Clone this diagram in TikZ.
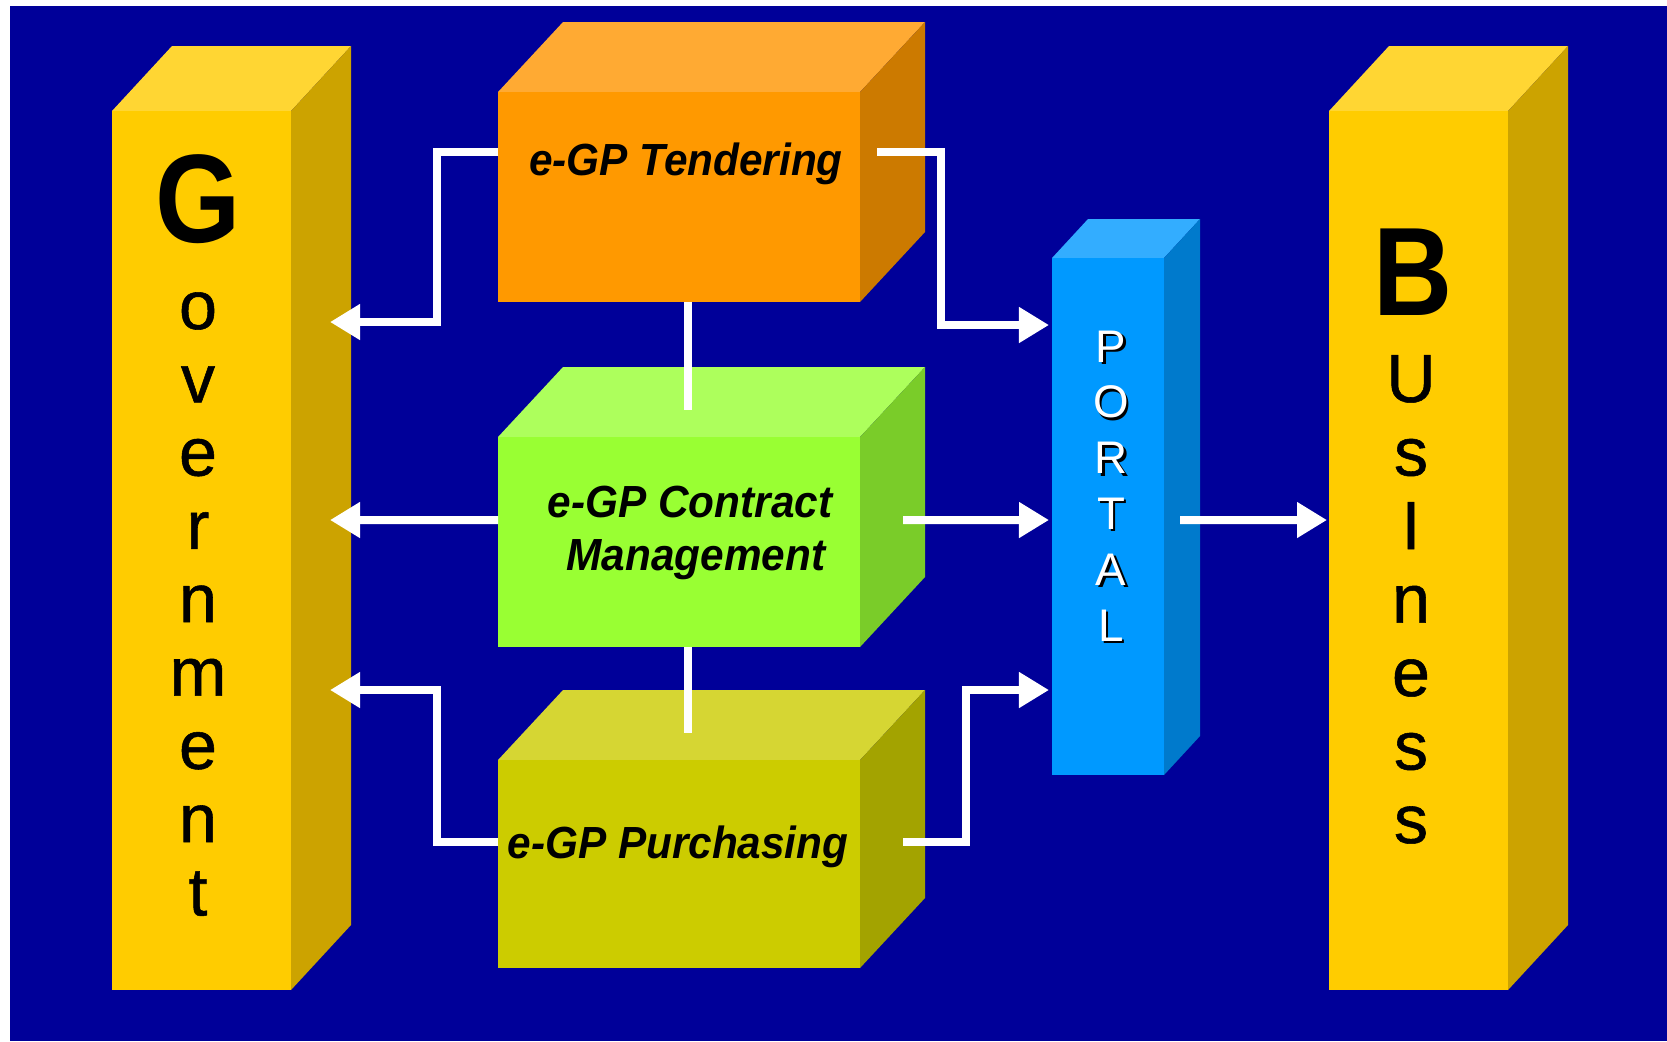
\documentclass[tikz,border=0pt]{standalone}
\usepackage{fontspec}
\setmainfont{Liberation Sans}
\newfontfamily\letterfont[FakeBold=0.8]{Liberation Sans}
\usetikzlibrary{arrows.meta}
\definecolor{bgblue}{RGB}{0,0,153}
\definecolor{colfront}{RGB}{255,204,0}
\definecolor{coltop}{RGB}{255,214,51}
\definecolor{colside}{RGB}{204,163,0}
\definecolor{tendfront}{RGB}{255,153,0}
\definecolor{tendtop}{RGB}{255,170,51}
\definecolor{tendside}{RGB}{204,122,0}
\definecolor{contfront}{RGB}{153,255,51}
\definecolor{conttop}{RGB}{173,255,92}
\definecolor{contside}{RGB}{122,204,41}
\definecolor{purfront}{RGB}{204,204,0}
\definecolor{purtop}{RGB}{214,214,51}
\definecolor{purside}{RGB}{163,163,0}
\definecolor{portfront}{RGB}{0,153,255}
\definecolor{porttop}{RGB}{51,173,255}
\definecolor{portside}{RGB}{0,122,204}
\newcommand{\solidbox}[8]{%
\fill [#2top] (#3,#4) -- (#3+#7,#4-#8) -- (#5+#7,#4-#8) -- (#5,#4) -- cycle;
\fill [#2side] (#5,#4) -- (#5+#7,#4-#8) -- (#5+#7,#6-#8) -- (#5,#6) -- cycle;
\node [fill=#2front, inner sep=0, outer sep=0, minimum width={(#5-#3)*0.01cm}, minimum height={(#6-#4)*0.01cm}] (#1) at ({(#3+#5)/2},{(#4+#6)/2}) {};}
\begin{document}
\begin{tikzpicture}[x=0.01cm, y=-0.01cm,
link/.style={white, line width=0.08cm},
tip/.style={-{Triangle[length=0.3cm, width=0.34cm]}},
boxtext/.style={font=\fontsize{12.8}{15}\selectfont\bfseries\itshape, anchor=base, inner sep=0, xscale=0.94},
bigletter/.style={font=\fontsize{35.8}{40}\selectfont\bfseries, anchor=base, inner sep=0, xscale=0.87},
letter/.style={font=\fontsize{19.4}{22}\selectfont\letterfont, anchor=base, inner sep=0},
portletter/.style={font=\fontsize{13}{15}\selectfont, anchor=base, inner sep=0}]
\useasboundingbox (0,0) rectangle (1667,1041);
\fill [bgblue] (10,6) rectangle (1667,1041);
\solidbox{gov}{col}{112}{111}{291}{990}{60}{65}
\solidbox{bus}{col}{1329}{111}{1508}{990}{60}{65}
\solidbox{tend}{tend}{498}{92}{860}{302}{65}{70}
\solidbox{cont}{cont}{498}{437}{860}{647}{65}{70}
\solidbox{pur}{pur}{498}{760}{860}{968}{65}{70}
\solidbox{port}{port}{1052}{258}{1164}{775}{36}{39}
\coordinate (govA) at (330,322);
\coordinate (govB) at (330,520);
\coordinate (govC) at (330,690);
\coordinate (portA) at (1049,325);
\coordinate (portB) at (1049,520);
\coordinate (portC) at (1049,690);
\coordinate (busA) at (1327,520);
\draw [link, tip] ([yshift=-0.6cm]tend.north west) -- ++(-61,0) |- (govA);
\draw [link, tip] ([xshift=0.17cm, yshift=-0.6cm]tend.north east) -- ++(64,0) |- (portA);
\draw [link] ([xshift=0.09cm]tend.south) -- ([xshift=0.09cm, yshift=0.27cm]cont.north);
\draw [link, tip] ([yshift=0.22cm]cont.west) -- (govB);
\draw [link, tip] ([xshift=0.43cm, yshift=0.22cm]cont.east) -- (portB);
\draw [link] ([xshift=0.09cm]cont.south) -- ([xshift=0.09cm, yshift=0.27cm]pur.north);
\draw [link, tip] ([yshift=0.22cm]pur.west) -- ++(-61,0) |- (govC);
\draw [link, tip] ([xshift=0.43cm, yshift=0.22cm]pur.east) -- ++(63,0) |- (portC);
\draw [link, tip] ([xshift=0.16cm, yshift=-0.035cm]port.east) -- (busA);
\node [boxtext] (tendtext) at (686,175) {e-GP Tendering};
\node [boxtext] (conttext1) at (690,517) {e-GP Contract};
\node [boxtext] (conttext2) at (696,570) {Management};
\node [boxtext] (purtext) at (678,858) {e-GP Purchasing};
\node [bigletter] (govG) at (198,242) {G};
\foreach \l [count=\i] in {o,v,e,r,n,m,e,n,t}
\node [letter] (gov\i) at (198,{329+73.3*(\i-1)}) {\l};
\node [bigletter] (busB) at (1413,315) {B};
\foreach \l [count=\i] in {U,s,I,n,e,s,s}
\node [letter] (bus\i) at (1411,{402+73.5*(\i-1)}) {\l};
\foreach \l [count=\i] in {P,O,R,T,A,L} {
\node [portletter, black] (portshade\i) at (1113.5,{364.5+55.8*(\i-1)}) {\l};
\node [portletter, white] (port\i) at (1111,{362+55.8*(\i-1)}) {\l};}
\end{tikzpicture}
\end{document}
